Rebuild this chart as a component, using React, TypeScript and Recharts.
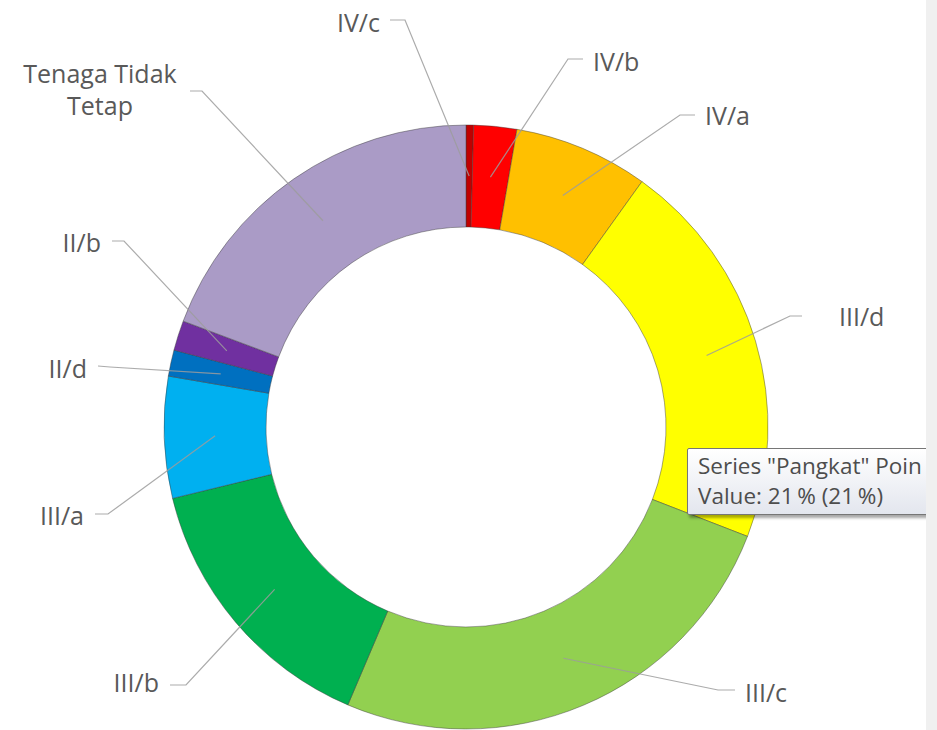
import { PieChart, Pie, Cell } from 'recharts'

// Pangkat breakdown, clockwise from 12 o'clock
const categories = ['IV/c', 'IV/b', 'IV/a', 'III/d', 'III/c', 'III/b', 'III/a', 'II/d', 'II/b', 'Tenaga Tidak Tetap']
const shares = [0.4, 2.3, 7.2, 21, 25.5, 14.8, 6.5, 1.4, 1.6, 19.3]
const sliceColors = [
  '#c00000',
  '#ff0000',
  '#ffc000',
  '#ffff00',
  '#92d050',
  '#00b050',
  '#00b0f0',
  '#0070c0',
  '#7030a0',
  '#aa9bc6',
]

const data = categories.map((name, i) => ({ name, value: shares[i] }))

// where Excel parked each label: line end near the text, elbow, text anchor
type LabelSpot = {
  end: [number, number]
  elbow: [number, number]
  text: [number, number]
  anchor: 'start' | 'end' | 'middle'
  lines?: string[]
}

const labelSpots: Record<string, LabelSpot> = {
  'IV/c': { end: [390, 20], elbow: [405, 20], text: [380, 32], anchor: 'end' },
  'IV/b': { end: [583, 59], elbow: [568, 59], text: [593, 71], anchor: 'start' },
  'IV/a': { end: [695, 115], elbow: [680, 115], text: [705, 125], anchor: 'start' },
  'III/d': { end: [802, 316], elbow: [790, 316], text: [839, 326], anchor: 'start' },
  'III/c': { end: [735, 690], elbow: [718, 690], text: [745, 702], anchor: 'start' },
  'III/b': { end: [170, 685], elbow: [186, 685], text: [159, 692], anchor: 'end' },
  'III/a': { end: [95, 514], elbow: [108, 514], text: [84, 525], anchor: 'end' },
  'II/d': { end: [98, 366], elbow: [110, 367], text: [87, 378], anchor: 'end' },
  'II/b': { end: [112, 241], elbow: [124, 241], text: [101, 252], anchor: 'end' },
  'Tenaga Tidak Tetap': {
    end: [190, 91],
    elbow: [202, 91],
    text: [100, 83],
    anchor: 'middle',
    lines: ['Tenaga Tidak', 'Tetap'],
  },
}

const RAD = Math.PI / 180
const FONT = '"Open Sans", "Noto Sans", sans-serif'

// eslint-disable-next-line @typescript-eslint/no-explicit-any
const renderLabel = (props: any) => {
  const { cx, cy, midAngle, innerRadius, outerRadius, index } = props
  const name = categories[index]
  const spot = labelSpots[name]
  if (!spot) return null
  const r = (innerRadius + outerRadius) / 2
  const px = cx + r * Math.cos(-midAngle * RAD)
  const py = cy + r * Math.sin(-midAngle * RAD)
  const pts = `${px},${py} ${spot.elbow[0]},${spot.elbow[1]} ${spot.end[0]},${spot.end[1]}`
  const lines = spot.lines ?? [name]
  return (
    <g key={`lbl-${name}`}>
      <polyline points={pts} fill="none" stroke="#9c9c9c" strokeOpacity={0.85} strokeWidth={1.2} />
      <text
        x={spot.text[0]}
        y={spot.text[1]}
        textAnchor={spot.anchor}
        fill="#595959"
        fontSize={25}
        fontFamily={FONT}
      >
        {lines.map((ln, i) => (
          <tspan key={ln} x={spot.text[0]} dy={i === 0 ? 0 : 32}>
            {ln}
          </tspan>
        ))}
      </text>
    </g>
  )
}

export default function App() {
  return (
    <div
      style={{
        position: 'absolute',
        left: 0,
        top: 0,
        width: 937,
        height: 730,
        background: '#ffffff',
        overflow: 'hidden',
        fontFamily: FONT,
      }}
    >
      <PieChart width={937} height={730} margin={{ top: 0, right: 0, bottom: 0, left: 0 }}>
        <Pie
          data={data}
          dataKey="value"
          nameKey="name"
          cx={466}
          cy={427}
          innerRadius={200}
          outerRadius={302}
          startAngle={90}
          endAngle={-270}
          stroke="rgba(60,60,60,0.45)"
          strokeWidth={1}
          label={renderLabel}
          labelLine={false}
          isAnimationActive={false}
        >
          {data.map((d, i) => (
            <Cell key={d.name} fill={sliceColors[i]} />
          ))}
        </Pie>
      </PieChart>

      {/* the hover box that was open when the screenshot was taken */}
      <div
        style={{
          position: 'absolute',
          left: 687,
          top: 448,
          width: 270,
          height: 67,
          boxSizing: 'border-box',
          border: '1px solid #767676',
          borderRadius: 2,
          background: 'linear-gradient(#ffffff, #e3e6ee)',
          boxShadow: '2px 3px 3px rgba(0,0,0,0.35)',
          padding: '2px 0 0 10px',
          fontSize: 22.5,
          lineHeight: '30px',
          color: '#4d4d4d',
          whiteSpace: 'nowrap',
        }}
      >
        <div>Series "Pangkat" Poin</div>
        <div>Value: 21{'\u2009'}% (21{'\u2009'}%)</div>
      </div>

      <div
        style={{
          position: 'absolute',
          left: 926,
          top: 0,
          width: 11,
          height: 730,
          background: '#f0f0f0',
        }}
      />
    </div>
  )
}
